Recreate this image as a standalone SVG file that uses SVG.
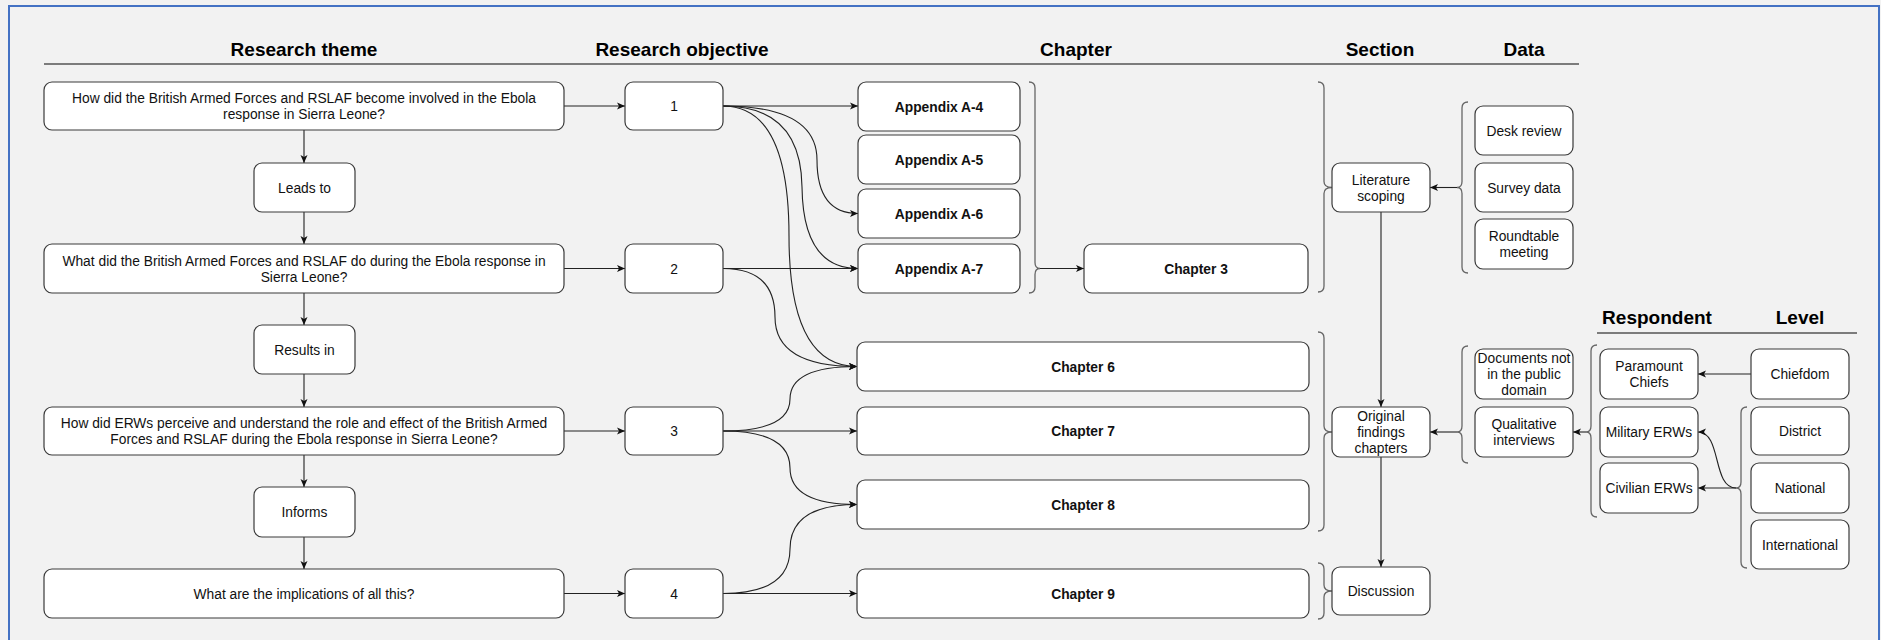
<svg xmlns="http://www.w3.org/2000/svg" width="1881" height="640" viewBox="0 0 1881 640">
<style>
.bg{fill:#f2f2f2}
.frame{fill:none;stroke:#4472c4;stroke-width:2}
.box{fill:#ffffff;stroke:#3a3a3a;stroke-width:1.2}
.t{font-family:"Liberation Sans",Arial,Helvetica,sans-serif;font-size:13.8px;fill:#111;text-anchor:middle}
.b{font-weight:bold}
.h{font-family:"Liberation Sans",Arial,Helvetica,sans-serif;font-size:19px;font-weight:bold;fill:#000;text-anchor:middle}
.rule{stroke:#555;stroke-width:1.6;fill:none}
.c{fill:none;stroke:#222;stroke-width:1.1;marker-end:url(#arr)}
.br{fill:none;stroke:#666;stroke-width:1.3}
</style>
<defs>
<marker id="arr" markerUnits="userSpaceOnUse" markerWidth="10" markerHeight="10" viewBox="0 0 10 10" refX="9" refY="5" orient="auto">
<path d="M1,1.5 L9,5 L1,8.5 L3,5 z" fill="#111"/>
</marker>
</defs>
<rect class="bg" x="0" y="0" width="1881" height="640"/>
<rect class="frame" x="9" y="6" width="1870" height="700"/>

<g id="headers">
<text class="h" x="304" y="56">Research theme</text>
<text class="h" x="682" y="56">Research objective</text>
<text class="h" x="1076" y="56">Chapter</text>
<text class="h" x="1380" y="56">Section</text>
<text class="h" x="1524" y="56">Data</text>
<line class="rule" x1="44" y1="64" x2="1579" y2="64"/>
<text class="h" x="1657" y="324">Respondent</text>
<text class="h" x="1800" y="324">Level</text>
<line class="rule" x1="1597" y1="333" x2="1857" y2="333"/>
</g>

<g id="connectors">
<line class="c" x1="304" y1="130" x2="304" y2="163"/>
<line class="c" x1="304" y1="212" x2="304" y2="244"/>
<line class="c" x1="304" y1="293" x2="304" y2="325"/>
<line class="c" x1="304" y1="374" x2="304" y2="407"/>
<line class="c" x1="304" y1="455" x2="304" y2="487"/>
<line class="c" x1="304" y1="537" x2="304" y2="569"/>
<line class="c" x1="564" y1="106" x2="625" y2="106"/>
<line class="c" x1="564" y1="268.5" x2="625" y2="268.5"/>
<line class="c" x1="564" y1="431" x2="625" y2="431"/>
<line class="c" x1="564" y1="593.5" x2="625" y2="593.5"/>
<line class="c" x1="723" y1="106" x2="858" y2="106"/>
<line class="c" x1="723" y1="268.5" x2="858" y2="268.5"/>
<line class="c" x1="723" y1="431" x2="857" y2="431"/>
<line class="c" x1="723" y1="593.5" x2="857" y2="593.5"/>
<path class="c" d="M723 106 Q817 106 817 160 Q817 213.5 858 213.5"/>
<path class="c" d="M723 106 Q801 106 802 187 Q803 268.5 858 268.5"/>
<path class="c" d="M723 106 Q789 106 789 236 Q789 366.5 857 366.5"/>
<path class="c" d="M723 268.5 Q775 268.5 775 317 Q775 366.5 857 366.5"/>
<path class="c" d="M723 431 Q790 431 790 399 Q790 366.5 857 366.5"/>
<path class="c" d="M723 431 Q790 431 790 468 Q790 504.5 857 504.5"/>
<path class="c" d="M723 593.5 Q790 593.5 790 549 Q790 504.5 857 504.5"/>
<line class="c" x1="1040" y1="268.5" x2="1084" y2="268.5"/>
<line class="c" x1="1381" y1="212" x2="1381" y2="407"/>
<line class="c" x1="1381" y1="457" x2="1381" y2="567"/>
<line class="c" x1="1457" y1="187.5" x2="1430" y2="187.5"/>
<line class="c" x1="1457" y1="432" x2="1430" y2="432"/>
<line class="c" x1="1586" y1="432" x2="1573" y2="432"/>
<line class="c" x1="1751" y1="374" x2="1698" y2="374"/>
<line class="c" x1="1736" y1="488" x2="1698" y2="488"/>
<path class="c" d="M1736 488 C1712 488 1722 432 1698 432"/>
<path class="br" d="M1029 82 Q1035 82 1035 88 V262.5 Q1035 268.5 1040 268.5 Q1035 268.5 1035 274.5 V287 Q1035 293 1029 293"/>
<path class="br" d="M1318 82 Q1324 82 1324 88 V181.5 Q1324 187.5 1332 187.5 Q1324 187.5 1324 193.5 V286 Q1324 292 1318 292"/>
<path class="br" d="M1318 332 Q1324 332 1324 338 V426 Q1324 432 1332 432 Q1324 432 1324 438 V525 Q1324 531 1318 531"/>
<path class="br" d="M1318 563 Q1324 563 1324 569 V585 Q1324 591 1332 591 Q1324 591 1324 597 V613 Q1324 619 1318 619"/>
<path class="br" d="M1468 102 Q1462 102 1462 108 V181.5 Q1462 187.5 1457 187.5 Q1462 187.5 1462 193.5 V267 Q1462 273 1468 273"/>
<path class="br" d="M1468 346 Q1462 346 1462 352 V426 Q1462 432 1457 432 Q1462 432 1462 438 V457 Q1462 463 1468 463"/>
<path class="br" d="M1597 345 Q1591 345 1591 351 V426 Q1591 432 1586 432 Q1591 432 1591 438 V511 Q1591 517 1597 517"/>
<path class="br" d="M1747 407 Q1741 407 1741 413 V482 Q1741 488 1736 488 Q1741 488 1741 494 V562 Q1741 568 1747 568"/>
</g>

<g id="q1"><rect class="box" x="44" y="82" width="520" height="48" rx="8"/><text class="t" x="304" y="103">How did the British Armed Forces and RSLAF become involved in the Ebola</text><text class="t" x="304" y="119">response in Sierra Leone?</text></g>
<g id="leads"><rect class="box" x="254" y="163" width="101" height="49" rx="8"/><text class="t" x="304.5" y="192.5">Leads to</text></g>
<g id="q2"><rect class="box" x="44" y="244" width="520" height="49" rx="8"/><text class="t" x="304" y="265.5">What did the British Armed Forces and RSLAF do during the Ebola response in</text><text class="t" x="304" y="281.5">Sierra Leone?</text></g>
<g id="results"><rect class="box" x="254" y="325" width="101" height="49" rx="8"/><text class="t" x="304.5" y="354.5">Results in</text></g>
<g id="q3"><rect class="box" x="44" y="407" width="520" height="48" rx="8"/><text class="t" x="304" y="428">How did ERWs perceive and understand the role and effect of the British Armed</text><text class="t" x="304" y="444">Forces and RSLAF during the Ebola response in Sierra Leone?</text></g>
<g id="informs"><rect class="box" x="254" y="487" width="101" height="50" rx="8"/><text class="t" x="304.5" y="517">Informs</text></g>
<g id="q4"><rect class="box" x="44" y="569" width="520" height="49" rx="8"/><text class="t" x="304" y="598.5">What are the implications of all this?</text></g>

<g id="o1"><rect class="box" x="625" y="82" width="98" height="48" rx="8"/><text class="t" x="674" y="111">1</text></g>
<g id="o2"><rect class="box" x="625" y="244" width="98" height="49" rx="8"/><text class="t" x="674" y="273.5">2</text></g>
<g id="o3"><rect class="box" x="625" y="407" width="98" height="48" rx="8"/><text class="t" x="674" y="436">3</text></g>
<g id="o4"><rect class="box" x="625" y="569" width="98" height="49" rx="8"/><text class="t" x="674" y="598.5">4</text></g>

<g id="a4"><rect class="box" x="858" y="82" width="162" height="49" rx="8"/><text class="t b" x="939" y="111.5">Appendix A-4</text></g>
<g id="a5"><rect class="box" x="858" y="135" width="162" height="49" rx="8"/><text class="t b" x="939" y="164.5">Appendix A-5</text></g>
<g id="a6"><rect class="box" x="858" y="189" width="162" height="49" rx="8"/><text class="t b" x="939" y="218.5">Appendix A-6</text></g>
<g id="a7"><rect class="box" x="858" y="244" width="162" height="49" rx="8"/><text class="t b" x="939" y="273.5">Appendix A-7</text></g>
<g id="ch3"><rect class="box" x="1084" y="244" width="224" height="49" rx="8"/><text class="t b" x="1196" y="273.5">Chapter 3</text></g>
<g id="ch6"><rect class="box" x="857" y="342" width="452" height="49" rx="8"/><text class="t b" x="1083" y="371.5">Chapter 6</text></g>
<g id="ch7"><rect class="box" x="857" y="407" width="452" height="48" rx="8"/><text class="t b" x="1083" y="436">Chapter 7</text></g>
<g id="ch8"><rect class="box" x="857" y="480" width="452" height="49" rx="8"/><text class="t b" x="1083" y="509.5">Chapter 8</text></g>
<g id="ch9"><rect class="box" x="857" y="569" width="452" height="49" rx="8"/><text class="t b" x="1083" y="598.5">Chapter 9</text></g>

<g id="lit"><rect class="box" x="1332" y="163" width="98" height="49" rx="8"/><text class="t" x="1381" y="184.5">Literature</text><text class="t" x="1381" y="200.5">scoping</text></g>
<g id="orig"><rect class="box" x="1332" y="407" width="98" height="50" rx="8"/><text class="t" x="1381" y="421">Original</text><text class="t" x="1381" y="437">findings</text><text class="t" x="1381" y="453">chapters</text></g>
<g id="disc"><rect class="box" x="1332" y="567" width="98" height="48" rx="8"/><text class="t" x="1381" y="596">Discussion</text></g>

<g id="desk"><rect class="box" x="1475" y="106" width="98" height="49" rx="8"/><text class="t" x="1524" y="135.5">Desk review</text></g>
<g id="survey"><rect class="box" x="1475" y="163" width="98" height="49" rx="8"/><text class="t" x="1524" y="192.5">Survey data</text></g>
<g id="round"><rect class="box" x="1475" y="219" width="98" height="50" rx="8"/><text class="t" x="1524" y="241">Roundtable</text><text class="t" x="1524" y="257">meeting</text></g>
<g id="docs"><rect class="box" x="1475" y="349" width="98" height="50" rx="8"/><text class="t" x="1524" y="363">Documents not</text><text class="t" x="1524" y="379">in the public</text><text class="t" x="1524" y="395">domain</text></g>
<g id="qual"><rect class="box" x="1475" y="407" width="98" height="50" rx="8"/><text class="t" x="1524" y="429">Qualitative</text><text class="t" x="1524" y="445">interviews</text></g>

<g id="para"><rect class="box" x="1600" y="349" width="98" height="50" rx="8"/><text class="t" x="1649" y="371">Paramount</text><text class="t" x="1649" y="387">Chiefs</text></g>
<g id="mil"><rect class="box" x="1600" y="407" width="98" height="50" rx="8"/><text class="t" x="1649" y="437">Military ERWs</text></g>
<g id="civ"><rect class="box" x="1600" y="463" width="98" height="50" rx="8"/><text class="t" x="1649" y="493">Civilian ERWs</text></g>

<g id="chief"><rect class="box" x="1751" y="349" width="98" height="50" rx="8"/><text class="t" x="1800" y="379">Chiefdom</text></g>
<g id="district"><rect class="box" x="1751" y="407" width="98" height="48" rx="8"/><text class="t" x="1800" y="436">District</text></g>
<g id="national"><rect class="box" x="1751" y="463" width="98" height="50" rx="8"/><text class="t" x="1800" y="493">National</text></g>
<g id="intl"><rect class="box" x="1751" y="520" width="98" height="49" rx="8"/><text class="t" x="1800" y="549.5">International</text></g>
</svg>
